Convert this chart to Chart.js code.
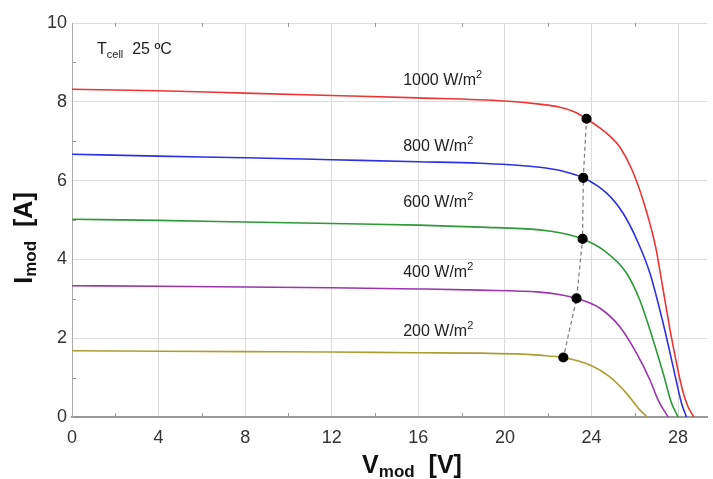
<!DOCTYPE html>
<html lang="en">

<head>
  <meta charset="UTF-8">
  <title>I-V curves vs irradiance</title>
  <script src="https://cdn.jsdelivr.net/npm/chart.js"></script>
  <style>
    body {
      margin: 0;
      background: #fff;
    }

    canvas {
      display: block;
    }
  </style>
</head>

<body>

  <canvas id="ivChart" width="713" height="479"></canvas>

  <script>
    // values (V in volts, I in amps)
    const v1000 = [0, 4, 8, 12, 16, 20, 21.6, 22.5, 23.2, 23.77, 24.4, 24.85, 25.3, 25.85, 26.4, 26.97, 27.25, 27.7, 28.2, 28.46, 28.73];
    const i1000 = [8.32, 8.28, 8.22, 8.16, 8.10, 8.02, 7.94, 7.87, 7.75, 7.57, 7.33, 7.13, 6.86, 6.3, 5.47, 4.3, 3.42, 2.0, 0.69, 0.26, 0];

    const v800 = [0, 4, 8, 12, 16, 18.85, 21.6, 22.6, 23.62, 24.7, 25.46, 26.1, 26.7, 27.31, 27.77, 28.16, 28.39];
    const i800 = [6.67, 6.62, 6.58, 6.53, 6.48, 6.44, 6.34, 6.25, 6.07, 5.68, 5.17, 4.49, 3.65, 2.38, 1.28, 0.35, 0];

    const v600 = [0, 4, 8, 12, 16, 18.85, 21.6, 22.6, 23.59, 24.54, 25.62, 26.23, 26.85, 27.31, 27.7, 28.0];
    const i600 = [5.02, 4.99, 4.95, 4.91, 4.87, 4.82, 4.75, 4.67, 4.52, 4.24, 3.65, 2.97, 1.95, 1.11, 0.35, 0];

    const v400 = [0, 4, 8, 12, 16, 18.85, 21.6, 22.5, 23.31, 24.39, 25.31, 26.08, 26.7, 27.08, 27.54];
    const i400 = [3.33, 3.32, 3.30, 3.28, 3.25, 3.22, 3.17, 3.11, 3.01, 2.76, 2.29, 1.62, 0.94, 0.43, 0];

    const v200 = [0, 4, 8, 12, 16, 18.85, 21.6, 22.0, 22.7, 23.93, 24.85, 25.62, 26.23, 26.57];
    const i200 = [1.68, 1.67, 1.66, 1.65, 1.63, 1.62, 1.57, 1.55, 1.51, 1.32, 1.02, 0.6, 0.18, 0];

    // maximum power points
    const vMpp = [23.77, 23.62, 23.59, 23.31, 22.7];
    const iMpp = [7.57, 6.07, 4.52, 3.01, 1.51];

    const seriesNames = ['1000 W/m', '800 W/m', '600 W/m', '400 W/m', '200 W/m'];
    const seriesColors = ['#ef3434', '#2f2fe6', '#2c9a36', '#9a35ad', '#a8a032'];

    const xTicks = [0, 4, 8, 12, 16, 20, 24, 28];
    const yTicks = [0, 2, 4, 6, 8, 10];

    const FONT = '"Liberation Sans", Arial, sans-serif';

    function pairs(xs, ys) {
      return xs.map((x, k) => ({ x: x, y: ys[k] }));
    }

    const curves = [[v1000, i1000], [v800, i800], [v600, i600], [v400, i400], [v200, i200]];

    const datasets = [{
      label: 'MPP',
      data: pairs(vMpp, iMpp),
      showLine: true,
      borderColor: '#7a7a7a',
      borderWidth: 1.2,
      borderDash: [4, 3],
      pointRadius: 4.5,
      pointBackgroundColor: '#000',
      pointBorderColor: '#000',
      tension: 0,
      order: 0
    }];
    curves.forEach((c, k) => {
      datasets.push({
        label: seriesNames[k],
        data: pairs(c[0], c[1]),
        borderColor: seriesColors[k],
        borderWidth: 1.6,
        pointRadius: 0,
        cubicInterpolationMode: 'monotone',
        order: 1
      });
    });

    // draw text made of pieces (normal / subscript / superscript)
    function drawPieces(ctx, x, y, pieces, align) {
      let total = 0;
      pieces.forEach(p => {
        ctx.font = p.font;
        total += ctx.measureText(p.t).width;
      });
      let cx = align === 'center' ? x - total / 2 : x;
      ctx.textAlign = 'left';
      ctx.textBaseline = 'alphabetic';
      pieces.forEach(p => {
        ctx.font = p.font;
        ctx.fillText(p.t, cx, y + (p.dy || 0));
        cx += ctx.measureText(p.t).width;
      });
    }

    const labelAnchors = [[15.3, 8.43], [15.3, 6.75], [15.3, 5.33], [15.3, 3.55], [15.3, 2.06]];

    const extrasPlugin = {
      id: 'extras',
      beforeDatasetsDraw(chart) {
        const ctx = chart.ctx;
        const xs = chart.scales.x;
        const ys = chart.scales.y;
        const a = chart.chartArea;
        ctx.save();
        ctx.strokeStyle = '#9a9a9a';
        ctx.lineWidth = 1;
        ctx.beginPath();
        for (let v = 2; v < 29.5; v += 4) {
          const px = Math.round(xs.getPixelForValue(v)) + 0.5;
          ctx.moveTo(px, a.bottom); ctx.lineTo(px, a.bottom - 4);
          ctx.moveTo(px, a.top); ctx.lineTo(px, a.top + 4);
        }
        for (let i = 1; i < 10; i += 2) {
          const py = Math.round(ys.getPixelForValue(i)) + 0.5;
          ctx.moveTo(a.left, py); ctx.lineTo(a.left + 4, py);
        }
        ctx.stroke();
        ctx.restore();
      },
      afterDatasetsDraw(chart) {
        const ctx = chart.ctx;
        const xs = chart.scales.x;
        const ys = chart.scales.y;
        ctx.save();
        ctx.fillStyle = '#222';

        // irradiance labels
        seriesNames.forEach((name, k) => {
          const px = xs.getPixelForValue(labelAnchors[k][0]);
          const py = ys.getPixelForValue(labelAnchors[k][1]);
          drawPieces(ctx, px, py, [
            { t: name, font: '16px ' + FONT },
            { t: '2', font: '11px ' + FONT, dy: -7 }
          ], 'left');
        });

        // cell temperature note
        drawPieces(ctx, 97, 54, [
          { t: 'T', font: '16px ' + FONT },
          { t: 'cell', font: '11px ' + FONT, dy: 4 },
          { t: '  25 ºC', font: '16px ' + FONT }
        ], 'left');

        // axis titles
        ctx.fillStyle = '#111';
        drawPieces(ctx, 412, 473, [
          { t: 'V', font: 'bold 25px ' + FONT },
          { t: 'mod', font: 'bold 17px ' + FONT, dy: 4 },
          { t: '  [V]', font: 'bold 25px ' + FONT }
        ], 'center');

        ctx.translate(32, 238);
        ctx.rotate(-Math.PI / 2);
        drawPieces(ctx, 0, 0, [
          { t: 'I', font: 'bold 25px ' + FONT },
          { t: 'mod', font: 'bold 17px ' + FONT, dy: 4 },
          { t: '  [A]', font: 'bold 25px ' + FONT }
        ], 'center');
        ctx.restore();
      }
    };

    const chart = new Chart(document.getElementById('ivChart').getContext('2d'), {
      type: 'line',
      data: { datasets: datasets },
      plugins: [extrasPlugin],
      options: {
        responsive: false,
        animation: false,
        layout: { padding: { top: 23, right: 1, left: 0, bottom: 0 } },
        plugins: {
          legend: { display: false },
          tooltip: { enabled: false },
          title: { display: false }
        },
        scales: {
          x: {
            type: 'linear',
            min: 0,
            max: 29.35,
            afterFit: s => { s.height = 62; },
            afterBuildTicks: s => { s.ticks = xTicks.map(v => ({ value: v })); },
            ticks: {
              includeBounds: false,
              padding: 10,
              color: '#333',
              font: { family: FONT, size: 18 }
            },
            grid: { color: '#dcdcdc', lineWidth: 1, drawTicks: false },
            border: { color: '#999', width: 2 }
          },
          y: {
            type: 'linear',
            min: 0,
            max: 10,
            afterFit: s => { s.width = 72; },
            afterBuildTicks: s => { s.ticks = yTicks.map(v => ({ value: v })); },
            ticks: {
              padding: 5,
              color: '#333',
              font: { family: FONT, size: 18 }
            },
            grid: { color: '#dcdcdc', lineWidth: 1, drawTicks: false },
            border: { color: '#aaa', width: 1 }
          }
        }
      }
    });
  </script>

</body>

</html>
